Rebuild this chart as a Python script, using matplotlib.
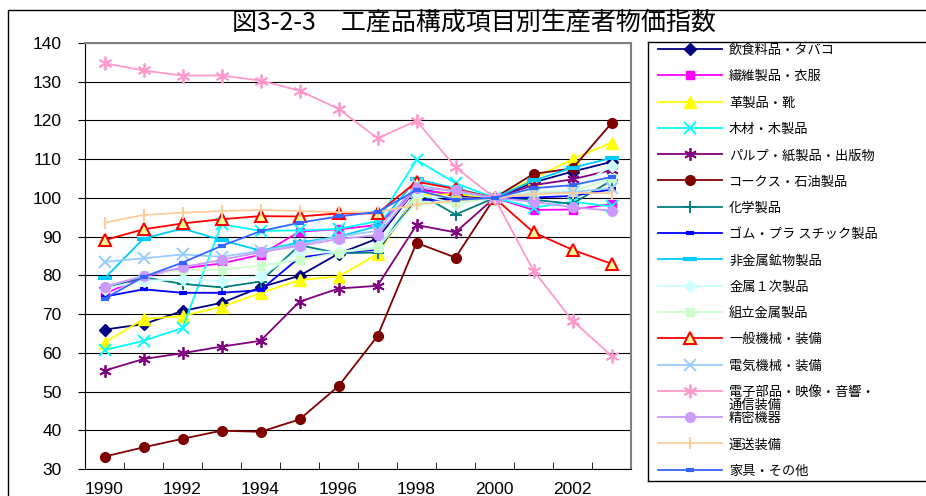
import matplotlib
matplotlib.use("Agg")
import matplotlib.pyplot as plt
from matplotlib.patches import Rectangle

plt.rcParams['font.family'] = ['Noto Sans CJK JP', 'DejaVu Sans']

years = list(range(1990, 2004))
xlabels = ['1990', '1992', '1994', '1996', '1998', '2000', '2002']

names = [
    '飲食料品・タバコ', '繊維製品・衣服', '革製品・靴', '木材・木製品',
    'パルプ・紙製品・出版物', 'コークス・石油製品', '化学製品', 'ゴム・プラ スチック製品',
    '非金属鉱物製品', '金属１次製品', '組立金属製品', '一般機械・装備',
    '電気機械・装備', '電子部品・映像・音響・\n通信装備', '精密機器', '運送装備', '家具・その他',
]

food = [66.0, 67.4, 70.8, 72.9, 76.9, 79.9, 85.6, 89.5, 102.5, 100.5, 100, 104.0, 106.8, 109.3]
textile = [75.2, 79.7, 81.8, 83.1, 85.3, 91.3, 91.9, 93.0, 102.0, 101.0, 100, 96.9, 97.0, 98.4]
leather = [62.6, 68.7, 69.5, 71.9, 75.4, 78.8, 79.7, 85.5, 100.7, 101.0, 100, 105.0, 110.0, 114.3]
wood = [60.7, 63.1, 66.4, 93.2, 91.5, 91.6, 92.0, 94.0, 109.8, 103.8, 100, 97.5, 99.0, 97.8]
pulp = [55.4, 58.4, 59.9, 61.6, 63.1, 73.2, 76.6, 77.3, 93.0, 91.1, 100, 103.3, 104.8, 107.2]
coke = [33.2, 35.6, 37.8, 39.9, 39.6, 42.8, 51.4, 64.3, 88.4, 84.6, 100, 106.2, 107.6, 119.3]
chem = [76.8, 79.5, 77.8, 76.9, 78.4, 87.8, 85.7, 85.9, 101.5, 95.7, 100, 99.5, 98.5, 104.5]
rubber = [74.5, 76.4, 75.5, 75.5, 76.2, 84.6, 85.9, 86.6, 99.5, 99.5, 100, 100.1, 100.5, 102.2]
mineral = [79.2, 89.5, 92.1, 89.1, 86.4, 88.5, 90.0, 92.7, 104.8, 102.5, 100, 104.5, 107.8, 110.3]
metal1 = [76.5, 78.6, 79.0, 78.6, 79.8, 86.3, 86.0, 87.5, 101.0, 98.5, 100, 101.5, 102.0, 108.3]
metalfab = [76.9, 80.1, 81.4, 81.4, 82.5, 84.0, 85.9, 87.0, 99.0, 98.6, 100, 101.4, 101.6, 105.1]
machine = [89.1, 91.9, 93.4, 94.5, 95.3, 95.2, 96.0, 96.0, 104.2, 102.3, 100, 91.1, 86.6, 83.0]
electric = [83.5, 84.4, 85.4, 84.8, 86.3, 88.0, 90.0, 91.5, 103.5, 101.5, 100, 101.0, 101.5, 102.5]
electronic = [134.8, 132.9, 131.6, 131.6, 130.3, 127.7, 123.0, 115.4, 119.9, 107.9, 100, 81.2, 68.3, 59.3]
precision = [77.1, 79.8, 82.1, 84.0, 86.0, 87.6, 89.4, 90.4, 102.5, 102.0, 100, 99.0, 97.6, 96.7]
transport = [93.6, 95.6, 96.2, 96.6, 96.9, 96.6, 96.3, 96.3, 98.3, 99.3, 100, 101.0, 101.3, 101.2]
furniture = [74.0, 79.6, 83.3, 87.6, 91.4, 93.6, 95.2, 96.4, 102.0, 99.5, 100, 102.5, 103.3, 105.4]

series = [food, textile, leather, wood, pulp, coke, chem, rubber, mineral,
          metal1, metalfab, machine, electric, electronic, precision, transport, furniture]

asterisk = (6, 2, 0)
styles = [
    dict(color='#000080', marker='D', ms=6),
    dict(color='#FF00FF', marker='s', ms=6),
    dict(color='#FFFF00', marker='^', ms=8),
    dict(color='#00FFFF', marker='x', ms=8, mew=1.4),
    dict(color='#800080', marker=asterisk, ms=9, mew=1.3),
    dict(color='#800000', marker='o', ms=7),
    dict(color='#008080', marker='+', ms=8, mew=1.4),
    dict(color='#0000FF', marker='_', ms=6, mew=3),
    dict(color='#00CCFF', marker='_', ms=10, mew=3),
    dict(color='#CCFFFF', marker='D', ms=6),
    dict(color='#CCFFCC', marker='s', ms=6),
    dict(color='#FF0000', marker='^', ms=8, mfc='#FFFF99', mec='#FF0000', mew=1.5),
    dict(color='#99CCFF', marker='x', ms=8, mew=1.4),
    dict(color='#FF99CC', marker=asterisk, ms=10, mew=1.3),
    dict(color='#CC99FF', marker='o', ms=7),
    dict(color='#FFCC99', marker='|', ms=8, mew=1.5),
    dict(color='#3366FF', marker='_', ms=6, mew=3),
]

fig = plt.figure(figsize=(9.26, 4.96), dpi=100)
W, H = 926, 496

# outer frame
fig.add_artist(Rectangle((8 / W, -0.1), 1.1, 0.1 + 1 - 10 / H, transform=fig.transFigure,
                         fill=False, ec='black', lw=1))

fig.text(474 / W, 1 - 22 / H, '図3-2-3　工産品構成項目別生産者物価指数',
         ha='center', va='center', fontsize=18)

ax = fig.add_axes([85 / W, 27 / H, 546 / W, 426 / H])
for vals, st in zip(series, styles):
    ax.plot(years, vals, lw=1.3, clip_on=False, **st)

ax.set_xlim(1989.5, 2003.5)
ax.set_ylim(30, 140)
ax.set_yticks(range(30, 150, 10))
ax.yaxis.grid(True, color='black', lw=0.8)
ax.set_axisbelow(True)
ax.set_xticks([int(s) for s in xlabels])
ax.set_xticklabels(xlabels)
ax.set_xticks([y + 0.5 for y in years[:-1]], minor=True)
ax.tick_params(axis='x', which='major', length=0, pad=9)
ax.tick_params(axis='x', which='minor', direction='in', length=5)
ax.tick_params(axis='y', direction='out', length=5, pad=12)
for lab in ax.get_xticklabels() + ax.get_yticklabels():
    lab.set_family(['Liberation Sans', 'DejaVu Sans'])
    lab.set_fontsize(12.5)
for s in ['top', 'right']:
    ax.spines[s].set_color('#808080')
    ax.spines[s].set_linewidth(1.5)

# legend box
lg = fig.add_axes([648 / W, (H - 481) / H, 290 / W, 439 / H])
lg.set_xlim(0, 290)
lg.set_ylim(439, 0)
lg.set_xticks([])
lg.set_yticks([])
for s in lg.spines.values():
    s.set_linewidth(1)
for k, (name, st) in enumerate(zip(names, styles)):
    y = 7 + 26.3 * k
    lg.plot([10, 74], [y, y], lw=1.3, color=st['color'])
    lg.plot([42], [y], linestyle='none', **st)
    for j, t in enumerate(name.split('\n')):
        lg.text(81, y + 1.5 + 12.5 * j, t, va='center', ha='left', fontsize=9.5)

fig.savefig('out.png', dpi=100)
